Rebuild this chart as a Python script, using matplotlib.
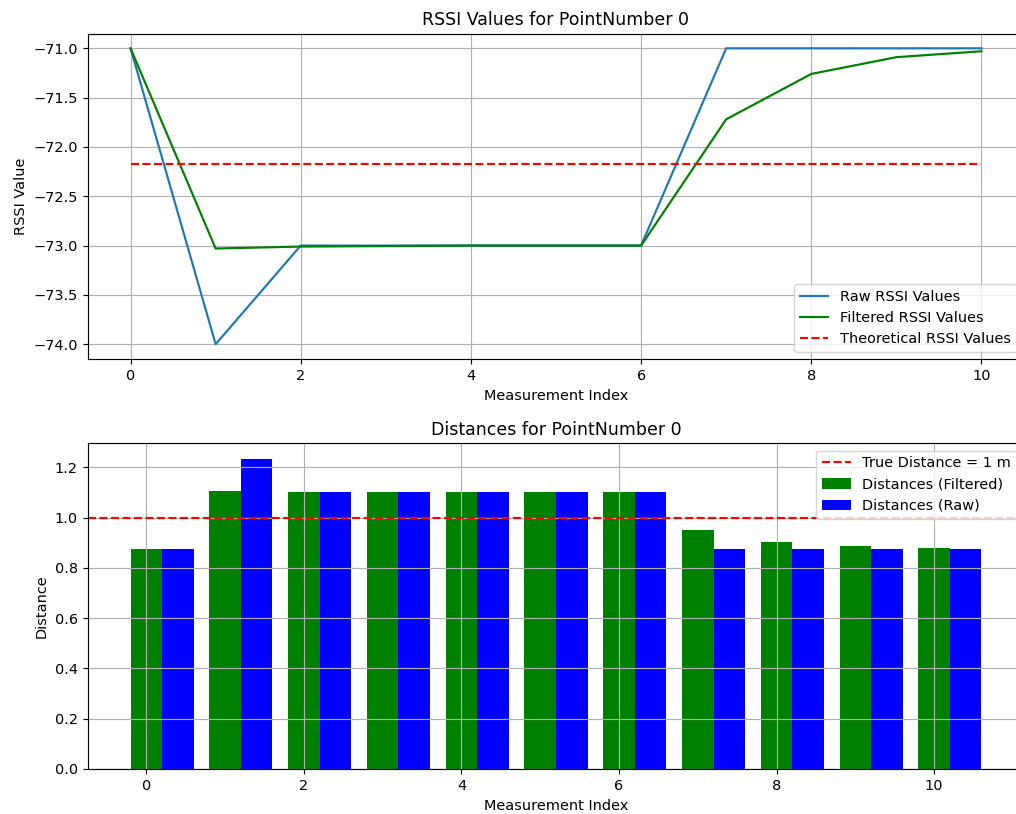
import numpy as np
import matplotlib.pyplot as plt

# measurement indices
index = list(range(11))

# RSSI readings (dBm)
raw_rssi = [-71, -74, -73, -73, -73, -73, -73, -71, -71, -71, -71]
filtered_rssi = [-71.0, -73.03, -73.01, -73.005, -73.0, -73.0, -73.0,
                 -71.72, -71.26, -71.09, -71.03]
theoretical_rssi = -72.17

# distances estimated from the RSSI readings (m)
dist_filtered = [0.875, 1.104, 1.101, 1.100, 1.100, 1.100, 1.100,
                 0.952, 0.902, 0.886, 0.878]
dist_raw = [0.875, 1.234, 1.100, 1.100, 1.100, 1.100, 1.100,
            0.875, 0.875, 0.875, 0.875]
true_distance = 1

W, H = 1016, 814
DPI = 104
fig = plt.figure(figsize=(W / DPI, H / DPI), dpi=DPI)

# axes run slightly past the right edge of the canvas
left = 88 / W
width = (1024 - 88) / W
ax1 = fig.add_axes([left, 1 - 359 / H, width, (359 - 33.5) / H])
ax2 = fig.add_axes([left, 1 - 769 / H, width, (769 - 443.3) / H])

x = np.array(index)

# RSSI plot
ax1.plot(x, raw_rssi, label="Raw RSSI Values")
ax1.plot(x, filtered_rssi, color="green", label="Filtered RSSI Values")
ax1.plot(x, [theoretical_rssi] * len(x), "r--", label="Theoretical RSSI Values")
ax1.set_title("RSSI Values for PointNumber 0")
ax1.set_xlabel("Measurement Index")
ax1.set_ylabel("RSSI Value")
ax1.legend(loc="lower right")
ax1.grid(True)

# distance bars
bar_w = 0.4
ax2.axhline(true_distance, color="red", linestyle="--",
            label=f"True Distance = {true_distance} m")
ax2.bar(x, dist_filtered, width=bar_w, color="green", label="Distances (Filtered)")
ax2.bar(x + bar_w, dist_raw, width=bar_w, color="blue", label="Distances (Raw)")
ax2.set_title("Distances for PointNumber 0")
ax2.set_xlabel("Measurement Index")
ax2.set_ylabel("Distance")
ax2.legend(loc="upper right")
ax2.grid(True)

fig.savefig("out.png", dpi=DPI)
